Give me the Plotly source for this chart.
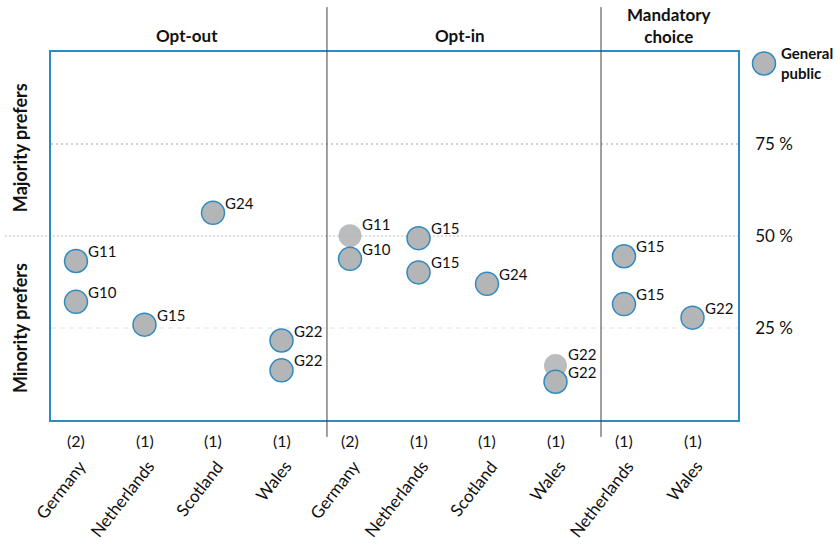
import plotly.graph_objects as go

# ---- data ----
countries = ["Germany", "Netherlands", "Scotland", "Wales",
             "Germany", "Netherlands", "Scotland", "Wales",
             "Netherlands", "Wales"]
counts = ["(2)", "(1)", "(1)", "(1)", "(2)", "(1)", "(1)", "(1)", "(1)", "(1)"]
groups = ["Opt-out", "Opt-in", "Mandatory<br>choice"]

# points (category index, percent, label)
pt_cat = [0, 0, 1, 2, 3, 3, 4, 5, 5, 6, 7, 8, 8, 9]
pt_val = [43.2, 32.1, 25.9, 56.3, 21.6, 13.5, 43.8, 49.4, 40.1, 37.0, 10.4, 44.5, 31.5, 27.8]
pt_lab = ["G11", "G10", "G15", "G24", "G22", "G22", "G10", "G15", "G15", "G24", "G22", "G15", "G15", "G22"]

# points drawn without outline
pt2_cat = [4, 7]
pt2_val = [50.1, 14.8]
pt2_lab = ["G11", "G22"]

ytick_vals = [25, 50, 75]
ytick_text = ["25 %", "50 %", "75 %"]

FONT = "Lato, sans-serif"
GRAY = "#B4B5B7"
BLUE = "#2E8BC0"

fig = go.Figure()

# reference lines (style per level)
grid_styles = {
    25: dict(color="#E2E2E2", width=1, dash="5px,4px", x0=0),
    50: dict(color="#BDBDBD", width=1, dash="2px,2px", x0=-0.067),
    75: dict(color="#D0D0D0", width=2, dash="2px,3px", x0=0),
}
for v in ytick_vals:
    st = grid_styles[v]
    fig.add_shape(type="line", xref="paper", yref="y", x0=st["x0"], x1=1, y0=v, y1=v,
                  line=dict(color=st["color"], width=st["width"], dash=st["dash"]),
                  layer="below")

fig.add_trace(go.Scatter(
    x=pt2_cat, y=pt2_val, mode="markers",
    marker=dict(size=23, color=GRAY, opacity=0.9, line=dict(width=0)),
    showlegend=False, hoverinfo="skip"))

fig.add_trace(go.Scatter(
    x=pt_cat, y=pt_val, mode="markers",
    marker=dict(size=23, color=GRAY, line=dict(width=1.5, color=BLUE)),
    showlegend=False, hoverinfo="skip"))

for cx, cy, lab in zip(pt_cat, pt_val, pt_lab):
    fig.add_annotation(x=cx, y=cy, xref="x", yref="y", text=lab, showarrow=False,
                       xanchor="left", yanchor="middle", xshift=10, yshift=10,
                       font=dict(family=FONT, size=15, color="#111"))
for cx, cy, lab in zip(pt2_cat, pt2_val, pt2_lab):
    fig.add_annotation(x=cx, y=cy, xref="x", yref="y", text=lab, showarrow=False,
                       xanchor="left", yanchor="middle", xshift=10, yshift=12,
                       font=dict(family=FONT, size=15, color="#111"))

fig.update_layout(
    width=840, height=547,
    margin=dict(l=51, r=102, t=52, b=127, autoexpand=False),
    paper_bgcolor="white", plot_bgcolor="white",
    font=dict(family=FONT, size=16, color="#111"),
    showlegend=False,
)

fig.update_xaxes(
    range=[-0.365, 9.664], automargin=False,
    showticklabels=False, ticks="",
    showgrid=False, zeroline=False,
    showline=True, mirror=True, linecolor=BLUE, linewidth=1.5)

fig.update_yaxes(
    range=[0, 100], side="right", tickmode="array", automargin=False,
    tickvals=ytick_vals, ticktext=ytick_text, ticks="",
    ticklabelstandoff=12,
    tickfont=dict(family=FONT, size=17, color="#111"),
    showgrid=False, zeroline=False,
    showline=True, mirror=True, linecolor=BLUE, linewidth=1.5)

# country labels (rotated)
for i, c in enumerate(countries):
    fig.add_annotation(x=i, y=-0.092, xref="x", yref="paper", text=c,
                       showarrow=False, textangle=-52, xshift=17,
                       xanchor="right", yanchor="top",
                       font=dict(family=FONT, size=17, color="#111"))

# separators
for xp in [0.4017, 0.8006]:
    fig.add_shape(type="line", xref="paper", yref="paper",
                  x0=xp, x1=xp, y0=-0.046, y1=1.122,
                  line=dict(color="#404040", width=1))

# group headers
for xp, txt, yp in [(0.198, groups[0], 1.046), (0.595, groups[1], 1.046), (0.9, groups[2], 1.072)]:
    fig.add_annotation(x=xp, y=yp, xref="paper", yref="paper", text="<b>%s</b>" % txt,
                       showarrow=False, font=dict(family=FONT, size=17, color="#111"),
                       xanchor="center", yanchor="middle")

# counts
for i, c in enumerate(counts):
    fig.add_annotation(x=i, y=-0.056, xref="x", yref="paper", text=c,
                       showarrow=False, font=dict(family=FONT, size=16, color="#111"),
                       xanchor="center", yanchor="middle")

# y titles
fig.add_annotation(x=-0.045, y=0.739, xref="paper", yref="paper", text="<b>Majority prefers</b>",
                   textangle=-90, showarrow=False, xanchor="center", yanchor="middle",
                   font=dict(family=FONT, size=18, color="#111"))
fig.add_annotation(x=-0.045, y=0.25, xref="paper", yref="paper", text="<b>Minority prefers</b>",
                   textangle=-90, showarrow=False, xanchor="center", yanchor="middle",
                   font=dict(family=FONT, size=18, color="#111"))

# legend
fig.add_shape(type="circle", xref="paper", yref="paper",
              x0=(752.5 - 51) / 687, x1=(775.5 - 51) / 687,
              y0=(420 - 75) / 368, y1=(420 - 52) / 368,
              fillcolor=GRAY, line=dict(color=BLUE, width=1.5))
fig.add_annotation(x=(779 - 51) / 687, y=(420 - 63) / 368, xref="paper", yref="paper",
                   text="<b>General<br>public</b>", align="left", showarrow=False,
                   xanchor="left", yanchor="middle",
                   font=dict(family=FONT, size=15, color="#111"))

fig.write_html("out.html", config={"displayModeBar": False},
               post_script="document.body.style.margin='0px';")
